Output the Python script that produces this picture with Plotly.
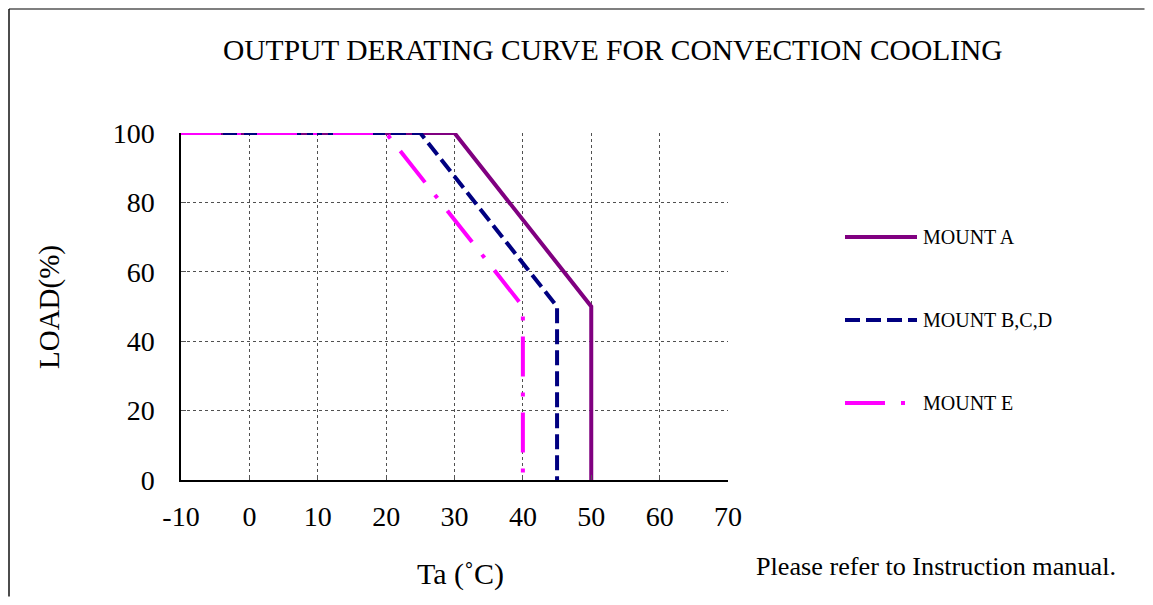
import plotly.graph_objects as go

# ---- data ----
series_names = ["MOUNT A", "MOUNT B,C,D", "MOUNT E"]
temp_a = [-10, 30, 50, 50]
load_a = [100, 100, 50, 0]
temp_bcd = [-10, 25, 45, 45]
load_bcd = [100, 100, 50, 0]
temp_e = [-10, 20, 40, 40]
load_e = [100, 100, 50, 0]
x_ticks = [-10, 0, 10, 20, 30, 40, 50, 60, 70]
x_tick_labels = ["-10", "0", "10", "20", "30", "40", "50", "60", "70"]
y_ticks = [0, 20, 40, 60, 80, 100]

OFF = 8  # page body margin
W, H = 1153 - 2 * OFF, 605 - 2 * OFF
# plot area in reference-pixel coordinates
L, R, T, B = 181, 728, 133, 480

FONT = "Liberation Serif, Times New Roman, serif"
colors = ["#800080", "#000080", "#FF00FF"]
dashes = ["solid", "15px,6px", "40px,16px,4px,16px"]

def px(x):
    return (x - L) / (R - L)

def py(y):
    return (B - y) / (B - T)

fig = go.Figure()
for name, xs, ys, c, d in zip(series_names, [temp_a, temp_bcd, temp_e],
                              [load_a, load_bcd, load_e], colors, dashes):
    fig.add_trace(go.Scatter(x=xs, y=ys, mode="lines", name=name,
                             line=dict(color=c, width=4, dash=d),
                             showlegend=False))

axis_common = dict(
    showgrid=True, gridcolor="#505050", gridwidth=1, griddash="dot",
    zeroline=False, showline=True, linecolor="black", linewidth=1.5,
    ticks="inside", ticklen=5, tickcolor="#555555",
    tickfont=dict(family=FONT, size=28, color="black"),
)
fig.update_xaxes(range=[-10, 70], tickvals=x_ticks, ticktext=x_tick_labels,
                 ticklabelstandoff=11, **axis_common)
fig.update_yaxes(range=[0, 100], tickvals=y_ticks, ticklabelstandoff=19,
                 **axis_common)

annotations = [
    dict(text="OUTPUT DERATING CURVE FOR CONVECTION COOLING", x=px(613), y=py(50),
         font=dict(family=FONT, size=29.5, color="black")),
    dict(text="LOAD(%)", x=px(49), y=py(307), textangle=-90,
         font=dict(family=FONT, size=29, color="black")),
    dict(text="Ta (˚C)", x=px(460), y=py(574),
         font=dict(family=FONT, size=30, color="black")),
    dict(text="Please refer to Instruction manual.", x=px(936), y=py(566),
         font=dict(family=FONT, size=26.2, color="black")),
]
right_edge = OFF + W - 0.5
bottom_edge = OFF + H - 0.5
shapes = [
    dict(type="line", xref="paper", yref="paper", x0=px(9), x1=px(right_edge),
         y0=py(9), y1=py(9), line=dict(color="#555555", width=1.5)),
    dict(type="line", xref="paper", yref="paper", x0=px(9), x1=px(9),
         y0=py(9), y1=py(bottom_edge), line=dict(color="#111111", width=1.5)),
]
legend_y = [237, 320, 403]
for name, c, d, ly in zip(series_names, colors, dashes, legend_y):
    shapes.append(dict(type="line", xref="paper", yref="paper",
                       x0=px(845), x1=px(917), y0=py(ly), y1=py(ly),
                       line=dict(color=c, width=4, dash=d)))
    annotations.append(dict(text=name, x=px(921), y=py(ly), xanchor="left",
                            font=dict(family=FONT, size=20, color="black")))

for a in annotations:
    a.setdefault("xref", "paper")
    a.setdefault("yref", "paper")
    a.setdefault("xanchor", "center")
    a.setdefault("yanchor", "middle")
    a.setdefault("showarrow", False)

fig.update_layout(
    width=W, height=H,
    margin=dict(l=L - OFF, r=W - (R - OFF), t=T - OFF, b=H - (B - OFF), pad=0),
    paper_bgcolor="white", plot_bgcolor="white",
    annotations=annotations, shapes=shapes,
    showlegend=False,
)
fig.write_html("out.html")
